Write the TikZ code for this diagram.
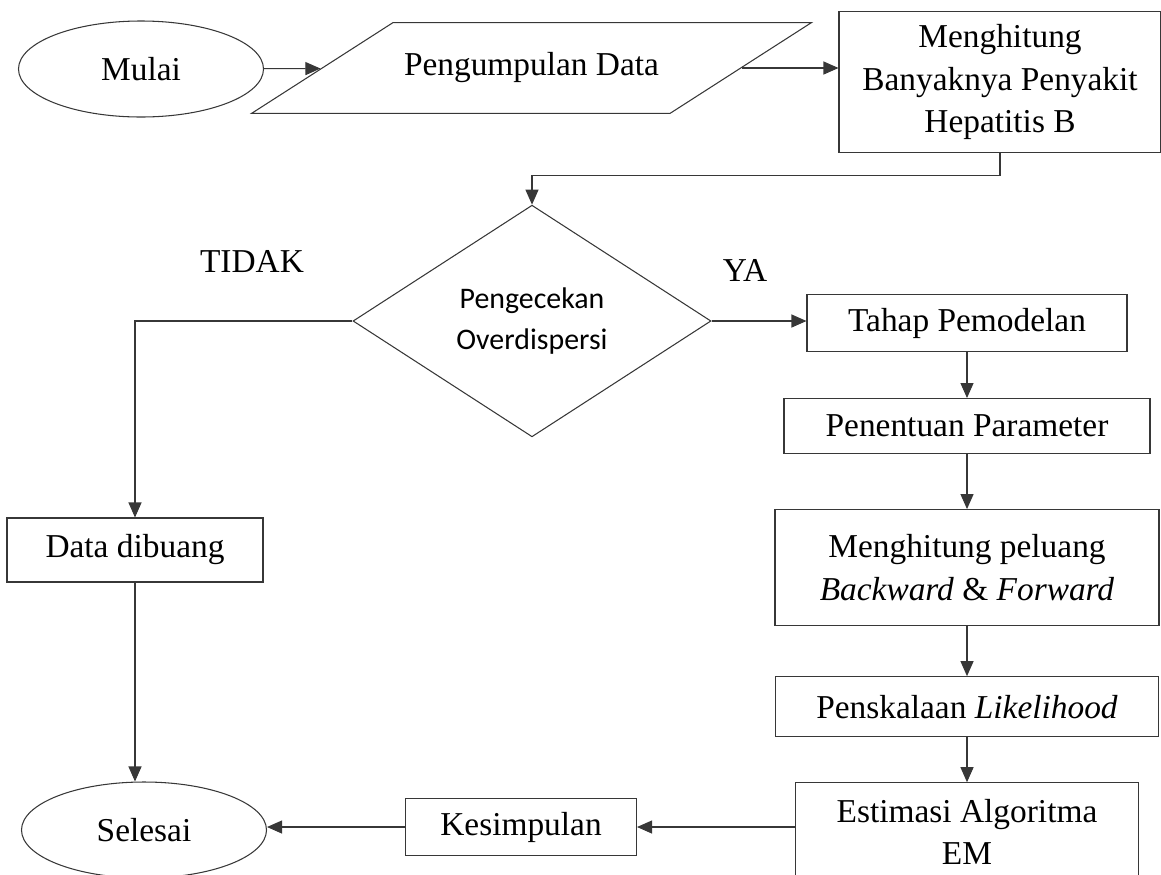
\documentclass[tikz,border=0pt]{standalone}
\usepackage{fontspec}
\setmainfont{Liberation Serif}
\newfontfamily\calibrifont{Carlito}
\usetikzlibrary{shapes.geometric,arrows.meta,positioning}
\definecolor{linegray}{RGB}{55,55,55}
\tikzset{
  base/.style={draw=linegray, line width=0.6pt, align=center,
    font=\fontsize{19}{24}\selectfont, inner sep=2pt},
  term/.style={base, ellipse, minimum width=49mm, minimum height=19.2mm},
  io/.style={base, trapezium, trapezium left angle=32.7,
    trapezium right angle=147.3, trapezium stretches body,
    inner ysep=6.05mm, minimum width=112mm, minimum height=18mm},
  proc/.style={base, rectangle},
  dec/.style={base, diamond, font=\calibrifont\fontsize{17}{23.3}\selectfont,
    minimum width=71.6mm, minimum height=38.6mm},
  arr/.style={-{Triangle[length=3mm,width=2.6mm]}, line width=0.6pt, draw=linegray},
  lbl/.style={font=\fontsize{19}{24}\selectfont}
}

\begin{document}
\begin{tikzpicture}[x=0.2mm, y=-0.2mm]
\useasboundingbox (0,0) rectangle (1161,874);

\node[term] (mulai) at (141,69) {Mulai};
\node[io]   (data)  at (531.5,68) {Pengumpulan Data};
\node[proc, minimum width=64.4mm, minimum height=28.2mm] (hitung) at (1000,82)
  {Menghitung\\Banyaknya Penyakit\\Hepatitis B};
\node[dec]  (cek)   at (532,321) {Pengecekan\\Overdispersi};
\node[lbl]  (tidak) at (252,262) {TIDAK};
\node[lbl]  (ya)    at (745,270) {YA};
\node[proc, minimum width=64mm, minimum height=11.4mm] (tahap) at (967,323)
  {Tahap Pemodelan};
\node[proc, minimum width=73.2mm, minimum height=11mm, below=9.2mm of tahap] (param)
  {Penentuan Parameter};
\node[proc, minimum width=76.8mm, minimum height=23.2mm, below=11mm of param] (peluang)
  {Menghitung peluang\\\textit{Backward} \& \textit{Forward}};
\node[proc, minimum width=76.6mm, minimum height=12mm, below=10mm of peluang] (skala)
  {Penskalaan \textit{Likelihood}};
\node[proc, minimum width=68.6mm, minimum height=19.6mm, below=9mm of skala] (estimasi)
  {Estimasi Algoritma\\EM};
\node[proc, minimum width=46.2mm, minimum height=11.4mm] (simpul) at (521,827)
  {Kesimpulan};
\node[proc, minimum width=51.2mm, minimum height=12.8mm] (buang) at (135,550)
  {Data dibuang};
\node[term] (selesai) at (144,830) {Selesai};

%% alur utama
\draw[arr] (mulai) -- (data);
\draw[arr] (data.east) -- (hitung.west |- data.east);
\draw[arr] (hitung.south) -- ++(0,22) -| (cek.north);
\draw[arr] (cek.east) -- (cek.east -| tahap.west);
\draw[arr] (cek.west) -| (buang.north);
\draw[arr] (tahap) -- (param);
\draw[arr] (param) -- (peluang);
\draw[arr] (peluang) -- (skala);
\draw[arr] (skala) -- (estimasi);
\draw[arr] (estimasi.west |- simpul) -- (simpul.east);
\draw[arr] (simpul.west) -- (selesai.east |- simpul.west);
\draw[arr] (buang.south) -- (buang.south |- selesai.north);

\end{tikzpicture}
\end{document}
